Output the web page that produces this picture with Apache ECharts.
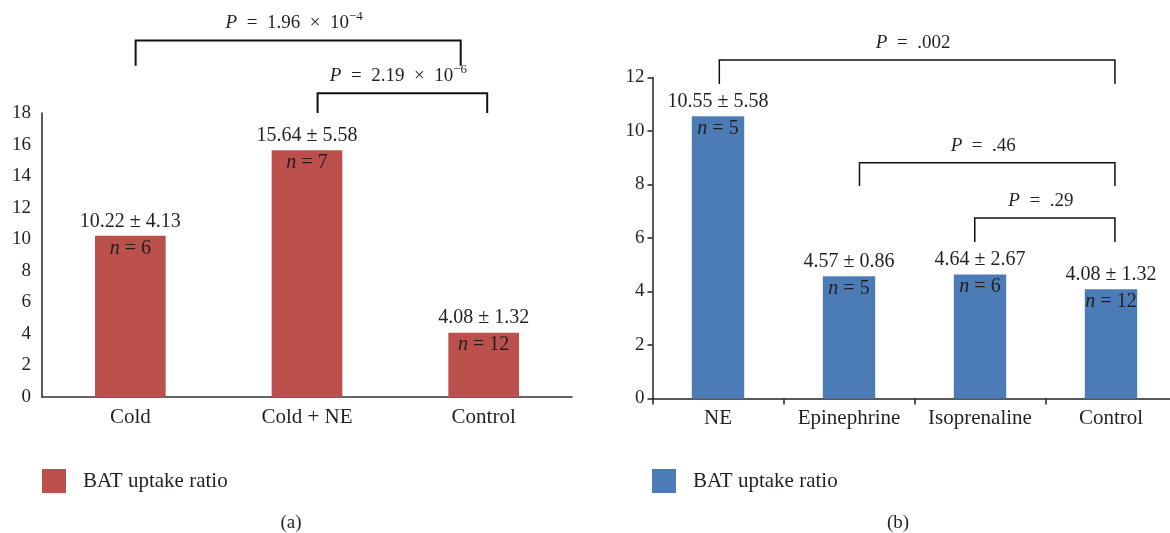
<!DOCTYPE html>
<html>
<head>
<meta charset="utf-8">
<script src="https://cdn.jsdelivr.net/npm/echarts@6/dist/echarts.min.js"></script>
<style>
html,body{margin:0;padding:0;background:#fff;overflow:hidden;width:1170px;height:533px;}
#main{width:1184px;height:533px;}
</style>
</head>
<body>
<div id="main"></div>
<script>
// ---- data: panel (a)
const catsA = ['Cold', 'Cold + NE', 'Control'];
const meanA = [10.22, 15.64, 4.08];
const sdA = [4.13, 5.58, 1.32];
const nA = [6, 7, 12];
const yTicksA = { min: 0, max: 18, interval: 2 };
// ---- data: panel (b)
const catsB = ['NE', 'Epinephrine', 'Isoprenaline', 'Control'];
const meanB = [10.55, 4.57, 4.64, 4.08];
const sdB = [5.58, 0.86, 2.67, 1.32];
const nB = [5, 5, 6, 12];
const yTicksB = { min: 0, max: 12, interval: 2 };
// ---- significance brackets: [from category pos, to category pos, top value, leg end value]
const bracketsA = [[0.03, 1.87, 22.6, 21.0], [1.06, 2.02, 19.25, 18.0]];
const pTextA = [['1.96\u2002×\u200210', '−4'], ['2.19\u2002×\u200210', '−6']];
const bracketsB = [[0.01, 3.03, 12.65, 11.76], [1.08, 3.03, 8.81, 7.94], [1.96, 3.03, 6.75, 5.85]];
const pTextB = [['.002', ''], ['.46', ''], ['.29', '']];
const legendName = 'BAT uptake ratio';

const FONT = "'Liberation Serif', 'DejaVu Serif', serif";
const TXT = '#231f20';
const RED = '#bb504c';
const BLUE = '#4c7cb6';

const chart = echarts.init(document.getElementById('main'), null, { renderer: 'canvas' });

function valueLabel(sd, n) {
  return function (p) {
    const i = p.dataIndex;
    return p.value.toFixed(2) + ' ± ' + sd[i].toFixed(2) + '\n{i|n} = ' + n[i];
  };
}

function bracketRender(pTexts, lw) {
  return function (params, api) {
    const x1 = api.value(0), x2 = api.value(1), yt = api.value(2), yl = api.value(3);
    const a0 = api.coord([0, yt]), a1 = api.coord([1, yt]);
    const step = a1[0] - a0[0];
    const px1 = a0[0] + step * x1, px2 = a0[0] + step * x2;
    const pyt = a0[1];
    const pyl = api.coord([0, yl])[1];
    const t = pTexts[params.dataIndex];
    const txt = '{i|P}\u2002=\u2002' + t[0] + (t[1] ? '{s|' + t[1] + '}' : '');
    return {
      type: 'group',
      children: [
        {
          type: 'polyline',
          shape: { points: [[px1, pyl], [px1, pyt], [px2, pyt], [px2, pyl]] },
          style: { stroke: '#111', lineWidth: lw, fill: null }
        },
        {
          type: 'text',
          style: {
            x: (px1 + px2) / 2 - 4, y: pyt - 17,
            text: txt,
            align: 'center', verticalAlign: 'middle',
            fontFamily: FONT, fontSize: 19, fill: TXT, lineHeight: 26,
            rich: {
              i: { fontStyle: 'italic', fontFamily: FONT, fontSize: 19, fill: TXT },
              s: { fontFamily: FONT, fontSize: 13, fill: TXT, verticalAlign: 'top' }
            }
          }
        }
      ]
    };
  };
}

const yLabelStyle = { color: TXT, fontFamily: FONT, fontSize: 19 };
const xLabelStyle = { color: TXT, fontFamily: FONT, fontSize: 21, interval: 0, hideOverlap: false };
const VFS = 20;

const option = {
  animation: false,
  backgroundColor: '#fff',
  title: [
    { text: '(a)', left: 286, top: 509, textAlign: 'center', textStyle: { fontFamily: FONT, fontSize: 19, fontWeight: 'normal', color: TXT } },
    { text: '(b)', left: 893, top: 509, textAlign: 'center', textStyle: { fontFamily: FONT, fontSize: 19, fontWeight: 'normal', color: TXT } }
  ],
  legend: [
    { data: ['a'], left: 42, top: 469, padding: 0, itemWidth: 24, itemHeight: 24, icon: 'rect',
      formatter: () => legendName, textStyle: { fontFamily: FONT, fontSize: 21, color: TXT, padding: [0, 0, 0, 12] }, selectedMode: false },
    { data: ['b'], left: 652, top: 469, padding: 0, itemWidth: 24, itemHeight: 24, icon: 'rect',
      formatter: () => legendName, textStyle: { fontFamily: FONT, fontSize: 21, color: TXT, padding: [0, 0, 0, 12] }, selectedMode: false }
  ],
  grid: [
    { left: 42, top: 113, width: 530, height: 284, containLabel: false },
    { left: 652.5, top: 77.5, width: 524, height: 321, containLabel: false }
  ],
  xAxis: [
    { type: 'category', gridIndex: 0, data: catsA,
      axisLine: { lineStyle: { color: '#333', width: 1.6 } }, axisTick: { show: false },
      axisLabel: Object.assign({ margin: 10 }, xLabelStyle) },
    { type: 'category', gridIndex: 1, data: catsB,
      axisLine: { lineStyle: { color: '#222', width: 1.5 } },
      axisTick: { show: true, interval: 0, length: 6, lineStyle: { color: '#222', width: 1.5 } },
      axisLabel: Object.assign({ margin: 9 }, xLabelStyle) }
  ],
  yAxis: [
    { type: 'value', gridIndex: 0, min: yTicksA.min, max: yTicksA.max, interval: yTicksA.interval,
      axisLine: { show: true, lineStyle: { color: '#333', width: 1.6 } }, axisTick: { show: false },
      splitLine: { show: false }, axisLabel: Object.assign({ margin: 11 }, yLabelStyle) },
    { type: 'value', gridIndex: 1, min: yTicksB.min, max: yTicksB.max, interval: yTicksB.interval,
      axisLine: { show: true, lineStyle: { color: '#222', width: 1.5 } },
      axisTick: { show: true, length: 5, lineStyle: { color: '#222', width: 1.5 } },
      splitLine: { show: false }, axisLabel: Object.assign({ margin: 8 }, yLabelStyle) }
  ],
  series: [
    { name: 'a', type: 'bar', xAxisIndex: 0, yAxisIndex: 0, data: meanA, barWidth: '40%',
      itemStyle: { color: RED },
      label: { show: true, position: 'insideTop', distance: 0, offset: [0, -28],
        formatter: valueLabel(sdA, nA), fontFamily: FONT, fontSize: VFS, color: TXT, lineHeight: 27,
        rich: { i: { fontStyle: 'italic', fontFamily: FONT, fontSize: VFS, color: TXT, lineHeight: 27 } } } },
    { name: 'b', type: 'bar', xAxisIndex: 1, yAxisIndex: 1, data: meanB, barWidth: '40%',
      itemStyle: { color: BLUE },
      label: { show: true, position: 'insideTop', distance: 0, offset: [0, -28],
        formatter: valueLabel(sdB, nB), fontFamily: FONT, fontSize: VFS, color: TXT, lineHeight: 27,
        rich: { i: { fontStyle: 'italic', fontFamily: FONT, fontSize: VFS, color: TXT, lineHeight: 27 } } } },
    { name: 'bracketsA', type: 'custom', xAxisIndex: 0, yAxisIndex: 0, clip: false, silent: true,
      renderItem: bracketRender(pTextA, 2), encode: { x: [0, 1], y: [2, 3] }, data: bracketsA, z: 5 },
    { name: 'bracketsB', type: 'custom', xAxisIndex: 1, yAxisIndex: 1, clip: false, silent: true,
      renderItem: bracketRender(pTextB, 1.5), encode: { x: [0, 1], y: [2, 3] }, data: bracketsB, z: 5 }
  ]
};
chart.setOption(option);
</script>
</body>
</html>
